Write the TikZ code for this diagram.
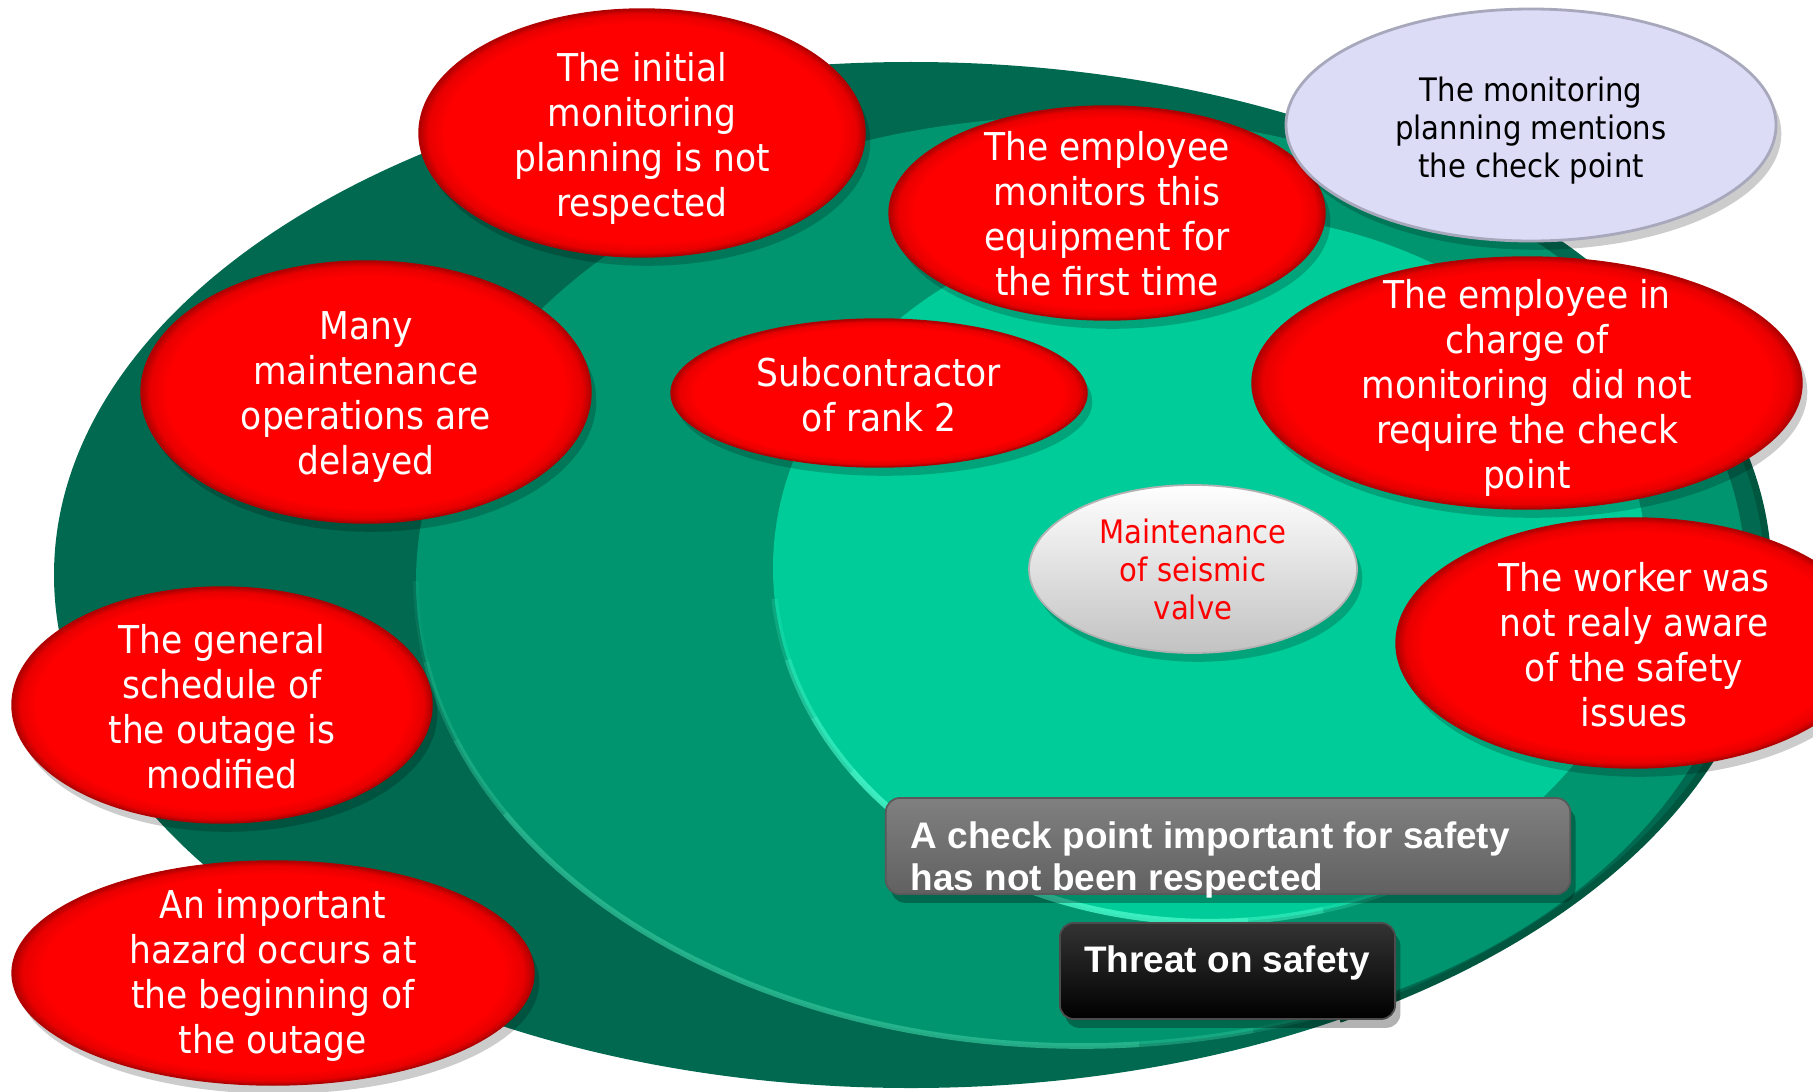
\documentclass[tikz,border=0pt]{standalone}
\usepackage{fontspec}
\setmainfont{DejaVu Sans Condensed}
\newfontfamily\arialfont{Liberation Sans}
\usetikzlibrary{shadows}
\definecolor{outerG}{HTML}{00694F}
\definecolor{outerE}{HTML}{00563F}
\definecolor{midG}{HTML}{00956F}
\definecolor{midH}{HTML}{2DBB93}
\definecolor{innG}{HTML}{00CC99}
\definecolor{innH}{HTML}{45F5C8}
\definecolor{redF}{HTML}{FF0000}
\definecolor{redM}{HTML}{E80000}
\definecolor{redE}{HTML}{B00000}
\definecolor{lavF}{HTML}{DCDCF7}
\definecolor{lavE}{HTML}{A8A8BC}
\pgfdeclareradialshading{redbevel}{\pgfpoint{0bp}{0bp}}{color(0bp)=(redF); color(22bp)=(redF); color(24bp)=(redM); color(25bp)=(redE); color(50bp)=(redE)}
\tikzset{
  softshadow/.style={drop shadow={shadow xshift=1.5pt, shadow yshift=-2.5pt, opacity=0.2, fill=black}},
  redball/.style={shading=redbevel, draw=redE, line width=0.4pt, softshadow},
  lavball/.style={fill=lavF, draw=lavE, line width=0.8pt, softshadow},
  whiteball/.style={top color=white, bottom color=black!24, draw=black!30, line width=0.5pt, softshadow},
  rtext/.style={text=white, align=center, inner sep=0pt,
    font=\fontsize{10.9pt}{12.8pt}\selectfont},
  stext/.style={align=center, inner sep=0pt,
    font=\fontsize{9.2pt}{10.8pt}\selectfont},
  gbox/.style={rectangle, rounded corners=4pt, top color=black!50, bottom color=black!62,
    draw=black!65, line width=0.5pt, inner sep=0pt,
    drop shadow={shadow xshift=1.5pt, shadow yshift=-2.5pt, opacity=0.3, fill=black}},
  bbox/.style={rectangle, rounded corners=4pt, top color=black!80, bottom color=black,
    draw=black!70, line width=0.5pt, inner sep=0pt,
    drop shadow={shadow xshift=1.5pt, shadow yshift=-2.5pt, opacity=0.3, fill=black}},
  btext/.style={text=white, inner sep=0pt,
    font=\arialfont\bfseries\fontsize{10.5pt}{11.9pt}\selectfont}
}
\begin{document}
\begin{tikzpicture}[x=0.01cm,y=0.01cm]
\useasboundingbox (0,0) rectangle (1813,-1091);
\clip (0,0) rectangle (1813,-1091);
% nested ellipses
\fill[outerG] (911,-575) ellipse [x radius=857, y radius=513];
\draw[outerE, line width=2pt] (911,-575) ++(-60:857 and 513) arc[start angle=-60, end angle=20, x radius=857, y radius=513];
\fill[midG] (1081,-581) ellipse [x radius=665, y radius=465];
\foreach \a/\b/\o in {180/190/0.15,190/200/0.35,200/210/0.55,210/275/0.8,275/285/0.5,285/295/0.25}
  \draw[midH, line width=1.6pt, opacity=\o] (1081,-581) ++(\a:665 and 465) arc[start angle=\a, end angle=\b, x radius=665, y radius=465];
\fill[innG] (1210,-568) ellipse [x radius=437, y radius=354];
\foreach \a/\b/\o in {185/195/0.2,195/205/0.45,205/215/0.65,215/275/0.85,275/285/0.55,285/295/0.25}
  \draw[innH, line width=1.8pt, opacity=\o] (1210,-568) ++(\a:437 and 354) arc[start angle=\a, end angle=\b, x radius=437, y radius=354];
% red ellipses
\shade[redball] (642,-133) ellipse [x radius=223, y radius=124];
\node[rtext] (init) at (642,-138) {The initial\\monitoring\\planning is not\\respected};
\shade[redball] (366,-392) ellipse [x radius=225, y radius=131];
\node[rtext] (many) at (366,-397) {Many\\maintenance\\operations are\\delayed};
\shade[redball] (222,-705) ellipse [x radius=210, y radius=118];
\node[rtext] (general) at (222,-707) {The general\\schedule of\\the outage is\\modified};
\shade[redball] (273,-973) ellipse [x radius=261, y radius=112];
\node[rtext] (hazard) at (273,-975) {An important\\hazard occurs at\\the beginning of\\the outage};
\shade[redball] (879,-393) ellipse [x radius=208, y radius=74];
\node[rtext] (sub) at (879,-395) {Subcontractor\\of rank 2};
\shade[redball] (1107,-213) ellipse [x radius=218, y radius=107];
\node[rtext] (empmon) at (1107,-214) {The employee\\monitors this\\equipment for\\the first time};
\path[lavball] (1531,-125) ellipse [x radius=245, y radius=116];
\node[stext, text=black] (lav) at (1531,-131) {The monitoring\\planning mentions\\the check point};
\shade[redball] (1527,-383) ellipse [x radius=275, y radius=126];
\node[rtext] (incharge) at (1527,-388) {The employee in\\charge of\\monitoring\ \ did not\\require the check\\point};
\shade[redball] (1634,-643) ellipse [x radius=238, y radius=125];
\node[rtext] (worker) at (1634,-645) {The worker was\\not realy aware\\of the safety\\issues};
\shade[whiteball] (1193,-569) ellipse [x radius=164, y radius=84];
\node[stext, text=red] (maint) at (1193,-569) {Maintenance\\of seismic\\valve};
% boxes
\node[gbox, minimum width=6.84cm, minimum height=0.96cm] (gbx) at (1228,-846) {};
\node[btext, anchor=north west, align=left] (gtext) at (910,-821) {A check point important for safety\\has not been respected};
\node[bbox, minimum width=3.35cm, minimum height=0.96cm] (bbx) at (1227.5,-971) {};
\node[btext, anchor=base] (thr) at (1227,-972) {Threat on safety};
\end{tikzpicture}
\end{document}
